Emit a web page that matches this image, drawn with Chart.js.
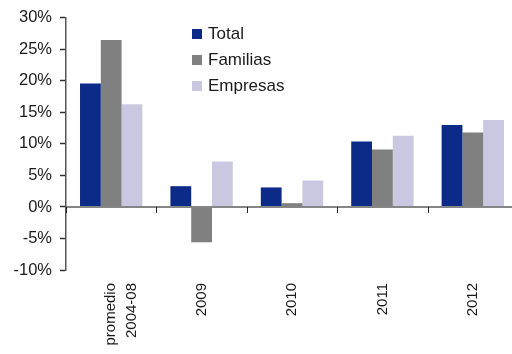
<!DOCTYPE html>
<html>
<head>
<meta charset="utf-8">
<script src="https://cdn.jsdelivr.net/npm/chart.js@4/dist/chart.umd.min.js"></script>
<style>
  html, body { margin: 0; padding: 0; background: #fff; overflow: hidden; }
  #wrap { position: relative; width: 518px; height: 354px; }
  #legend { position: absolute; left: 192px; top: 21px; font-family: "Liberation Sans", Arial, sans-serif; font-size: 17px; color: #1a1a1a; }
  #legend .row { display: flex; align-items: center; height: 26px; }
  #legend .sw { width: 10px; height: 10px; margin-right: 6px; }
</style>
</head>
<body>
<div id="wrap">
  <canvas id="c" width="518" height="354"></canvas>
  <div id="legend"></div>
</div>
<script>
const categories = [["promedio", "2004-08"], "2009", "2010", "2011", "2012"];
const seriesNames = ["Total", "Familias", "Empresas"];
const total    = [19.6, 3.3, 3.1, 10.4, 13.0];
const familias = [26.5, -5.6, 0.6, 9.1, 11.8];
const empresas = [16.3, 7.2, 4.2, 11.3, 13.8];
const colors = ["#0c2a88", "#808080", "#cac8e0"];
const yMin = -10, yMax = 30, yStep = 5;

const FONT = "'Liberation Sans', Arial, sans-serif";

// zero line drawn over the bars, with short ticks between categories
const zeroLine = {
  id: "zeroLine",
  afterDatasetsDraw(chart) {
    const { ctx, chartArea, scales: { x, y } } = chart;
    const y0 = y.getPixelForValue(0);
    ctx.save();
    ctx.strokeStyle = "#858585";
    ctx.lineWidth = 2;
    ctx.beginPath();
    ctx.moveTo(chartArea.left, y0);
    ctx.lineTo(chartArea.right, y0);
    ctx.stroke();
    ctx.strokeStyle = "#222";
    ctx.lineWidth = 1;
    const n = chart.data.labels.length;
    const half = (x.getPixelForValue(1) - x.getPixelForValue(0)) / 2;
    for (let i = 0; i < n; i++) {
      const px = Math.round(x.getPixelForValue(i) - half) + 0.5;
      ctx.beginPath();
      ctx.moveTo(px, y0);
      ctx.lineTo(px, y0 + 6);
      ctx.stroke();
    }
    ctx.restore();
  }
};

const chart = new Chart(document.getElementById("c"), {
  type: "bar",
  data: {
    labels: categories,
    datasets: [
      { label: seriesNames[0], data: total, backgroundColor: colors[0] },
      { label: seriesNames[1], data: familias, backgroundColor: colors[1] },
      { label: seriesNames[2], data: empresas, backgroundColor: colors[2] }
    ]
  },
  options: {
    responsive: false,
    animation: false,
    layout: { padding: { top: 15, left: 0, right: 0, bottom: 0 } },
    datasets: { bar: { categoryPercentage: 0.69, barPercentage: 1.0 } },
    plugins: { legend: { display: false }, tooltip: { enabled: false } },
    scales: {
      x: {
        offset: true,
        grid: { display: false },
        border: { display: false },
        afterFit(s) { s.height = 84; },
        ticks: {
          minRotation: 90, maxRotation: 90, padding: 5,
          color: "#1a1a1a",
          font: { family: FONT, size: 15, lineHeight: 1.35 }
        }
      },
      y: {
        min: yMin, max: yMax,
        afterFit(s) { s.width = 66; },
        border: { display: true, color: "#555", width: 1.5 },
        grid: { drawOnChartArea: false, drawTicks: true, tickLength: 6, tickColor: "#333", tickWidth: 1.5 },
        ticks: {
          stepSize: yStep, padding: 8,
          color: "#1a1a1a",
          font: { family: FONT, size: 16.5 },
          callback: v => v + "%"
        }
      }
    }
  },
  plugins: [zeroLine]
});

// legend built from the datasets
const legend = document.getElementById("legend");
chart.data.datasets.forEach(ds => {
  const row = document.createElement("div");
  row.className = "row";
  const sw = document.createElement("span");
  sw.className = "sw";
  sw.style.background = ds.backgroundColor;
  const t = document.createElement("span");
  t.textContent = ds.label;
  row.appendChild(sw);
  row.appendChild(t);
  legend.appendChild(row);
});
</script>
</body>
</html>
